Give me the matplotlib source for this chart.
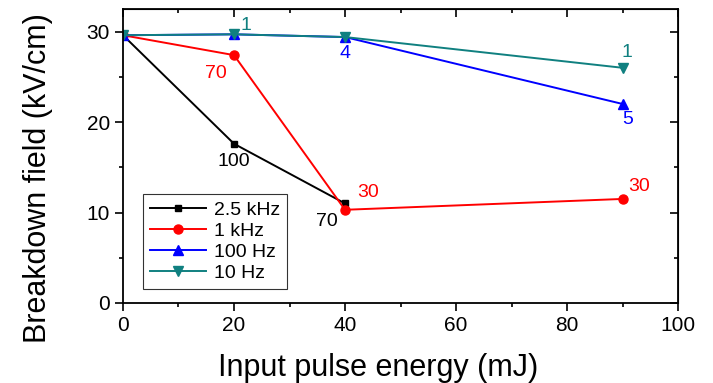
import numpy as np
import matplotlib
matplotlib.use("Agg")
import matplotlib.pyplot as plt

plt.rcParams["font.family"] = ["Liberation Sans", "DejaVu Sans"]

energy = [0, 20, 40, 90]
field_2k5 = [29.6, 17.6, 11.0]
field_1k = [29.6, 27.4, 10.3, 11.5]
field_100 = [29.6, 29.7, 29.4, 22.0]
field_10 = [29.6, 29.7, 29.4, 26.0]

series = [
    ("2.5 kHz", field_2k5, "black", "s", 5),
    ("1 kHz", field_1k, "red", "o", 6.5),
    ("100 Hz", field_100, "blue", "^", 7.5),
    ("10 Hz", field_10, "#108080", "v", 7.5),
]

# (text, x, y, color, dx, dy in points, ha, va)
notes = [
    ("100", 20, 17.6, "black", 0, -7, "center", "top"),
    ("70", 20, 27.4, "red", -5, -7, "right", "top"),
    ("1", 20, 29.7, "#108080", 5, 0, "left", "bottom"),
    ("4", 40, 29.4, "blue", 0, -6, "center", "top"),
    ("70", 40, 11.0, "black", -5, -7, "right", "top"),
    ("30", 40, 10.3, "red", 9, 6, "left", "bottom"),
    ("30", 90, 11.5, "red", 4, 3, "left", "bottom"),
    ("1", 90, 26.0, "#108080", 3, 5, "center", "bottom"),
    ("5", 90, 22.0, "blue", 4, -5, "center", "top"),
]

fig = plt.figure(figsize=(7.13, 3.83), dpi=100)
ax = fig.add_axes([0.1725, 0.209, 0.7785, 0.7675])

for label, vals, col, mk, ms in series:
    ax.plot(energy[:len(vals)], vals, color=col, marker=mk, markersize=ms,
            lw=1.4, label=label)

for txt, x, y, col, dx, dy, ha, va in notes:
    ax.annotate(txt, (x, y), xytext=(dx, dy), textcoords="offset points",
                color=col, fontsize=14, ha=ha, va=va)

ax.set_xlim(0, 100)
ax.set_ylim(0, 32.5)
ax.set_xticks(np.arange(0, 101, 20))
ax.set_xticks(np.arange(0, 101, 10), minor=True)
ax.set_yticks([0, 10, 20, 30])
ax.set_yticks(np.arange(0, 32, 5), minor=True)
ax.tick_params(which="both", direction="out", labelsize=15, width=1.2)
ax.tick_params(which="major", length=6)
ax.tick_params(which="minor", length=3)
for sp in ax.spines.values():
    sp.set_linewidth(1.3)

top = ax.secondary_xaxis("top")
top.set_xticks(np.arange(0, 101, 20))
top.set_xticks(np.arange(0, 101, 10), minor=True)
top.tick_params(which="both", direction="in", labeltop=False, width=1.2)
top.tick_params(which="major", length=6)
top.tick_params(which="minor", length=3)
right = ax.secondary_yaxis("right")
right.set_yticks([0, 10, 20, 30])
right.set_yticks(np.arange(0, 32, 5), minor=True)
right.tick_params(which="both", direction="in", labelright=False, width=1.2)
right.tick_params(which="major", length=6)
right.tick_params(which="minor", length=3)

ax.set_xlabel("Input pulse energy (mJ)", fontsize=22)
ax.xaxis.set_label_coords(0.46, -0.17)
ax.xaxis.label.set_va("top")
ax.set_ylabel("Breakdown field (kV/cm)", fontsize=22)
ax.yaxis.set_label_coords(-0.153, 0.425)
ax.yaxis.label.set_va("center")

leg = ax.legend(loc="lower left", bbox_to_anchor=(0.036, 0.048), fontsize=14,
                frameon=True, fancybox=False, edgecolor="black",
                handlelength=2.9, handletextpad=0.4, labelspacing=0.18,
                borderpad=0.35, borderaxespad=0)
leg.get_frame().set_linewidth(0.8)

fig.savefig("out.png", dpi=100)
